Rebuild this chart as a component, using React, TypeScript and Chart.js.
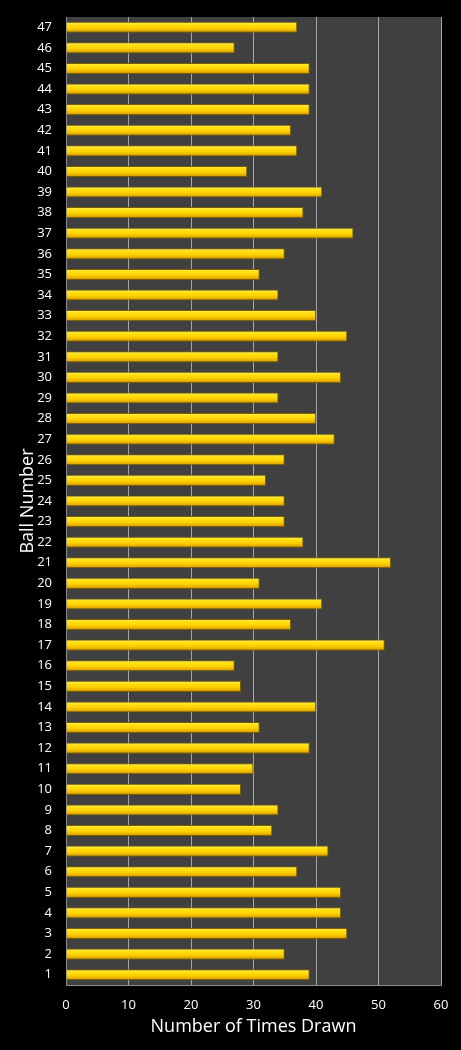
import { useEffect, useRef } from "react"
import { Chart, registerables } from "chart.js"

Chart.register(...registerables)

// ball numbers 1..47 (drawn bottom to top)
const balls = Array.from({ length: 47 }, (_, i) => String(i + 1))

// times drawn, ball 1 first
const timesDrawn = [
  39, 35, 45, 44, 44, 37, 42, 33, 34, 28,
  30, 39, 31, 40, 28, 27, 51, 36, 41, 31,
  52, 38, 35, 35, 32, 35, 43, 40, 34, 44,
  34, 45, 40, 34, 31, 35, 46, 38, 41, 29,
  37, 36, 39, 39, 39, 27, 37,
]

const xTicks = [0, 10, 20, 30, 40, 50, 60]

const FONT = "'Open Sans', 'DejaVu Sans', sans-serif"

// dark grey plot area
const plotBg = {
  id: "plotBg",
  beforeDraw(chart: any) {
    const { ctx, chartArea } = chart
    if (!chartArea) return
    ctx.save()
    ctx.fillStyle = "#404040"
    ctx.fillRect(chartArea.left, chartArea.top, chartArea.right - chartArea.left, chartArea.bottom - chartArea.top)
    ctx.restore()
  },
}

// vertical gradient for each bar, centred on its category
function barFill(context: any) {
  const chart = context.chart
  const y = chart.scales?.y
  if (!y || context.dataIndex === undefined) return "#FFD400"
  const cy = y.getPixelForValue(context.dataIndex)
  if (!Number.isFinite(cy)) return "#FFD400"
  const half = 5.5
  const g = chart.ctx.createLinearGradient(0, cy - half, 0, cy + half)
  g.addColorStop(0, "#FFF38A")
  g.addColorStop(0.18, "#FFE41C")
  g.addColorStop(0.55, "#FFD200")
  g.addColorStop(0.85, "#E2AA00")
  g.addColorStop(1, "#9A7400")
  return g
}

export default function App() {
  const canvasRef = useRef<HTMLCanvasElement>(null)
  const chartRef = useRef<Chart | null>(null)

  useEffect(() => {
    document.body.style.margin = "0"
    document.body.style.background = "#000"
    if (!canvasRef.current) return
    if (chartRef.current) chartRef.current.destroy()
    const ctx = canvasRef.current.getContext("2d")
    if (!ctx) return

    chartRef.current = new Chart(ctx, {
      type: "bar",
      data: {
        labels: balls,
        datasets: [
          {
            data: timesDrawn,
            backgroundColor: barFill,
            borderColor: "#7A5E00",
            borderWidth: 1,
            borderSkipped: "start",
            categoryPercentage: 1,
            barPercentage: 0.54,
          },
        ],
      },
      options: {
        indexAxis: "y",
        animation: false,
        responsive: true,
        maintainAspectRatio: false,
        layout: { padding: { top: 17, right: 20, bottom: 12, left: 10 } },
        plugins: {
          legend: { display: false },
          tooltip: { enabled: false },
        },
        scales: {
          x: {
            min: 0,
            max: 60,
            afterBuildTicks: (axis: any) => {
              axis.ticks = xTicks.map((v) => ({ value: v }))
            },
            afterFit: (axis: any) => {
              axis.height = 53
            },
            grid: { color: "#A6A6A6", lineWidth: 1, drawTicks: false },
            border: { color: "#8C8C8C", width: 1 },
            ticks: {
              color: "#FFFFFF",
              font: { family: FONT, size: 13 },
              padding: 12,
            },
            title: {
              display: true,
              text: "Number of Times Drawn",
              color: "#FFFFFF",
              font: { family: FONT, size: 18 },
              padding: { top: 4, bottom: 0 },
            },
          },
          y: {
            reverse: true,
            afterFit: (axis: any) => {
              axis.width = 56
              axis.paddingTop = 0
              axis.paddingBottom = 0
            },
            grid: { display: false, drawTicks: false },
            border: { color: "#8C8C8C", width: 1 },
            ticks: {
              color: "#FFFFFF",
              font: { family: FONT, size: 13 },
              padding: 14,
              autoSkip: false,
            },
            title: {
              display: true,
              text: "Ball Number",
              color: "#FFFFFF",
              font: { family: FONT, size: 18 },
              padding: { top: 7, bottom: 0 },
            },
          },
        },
      },
      plugins: [plotBg],
    })

    return () => {
      if (chartRef.current) {
        chartRef.current.destroy()
        chartRef.current = null
      }
    }
  }, [])

  return (
    <div style={{ position: "relative", width: 461, height: 1050, background: "#000" }}>
      <canvas ref={canvasRef} />
    </div>
  )
}
